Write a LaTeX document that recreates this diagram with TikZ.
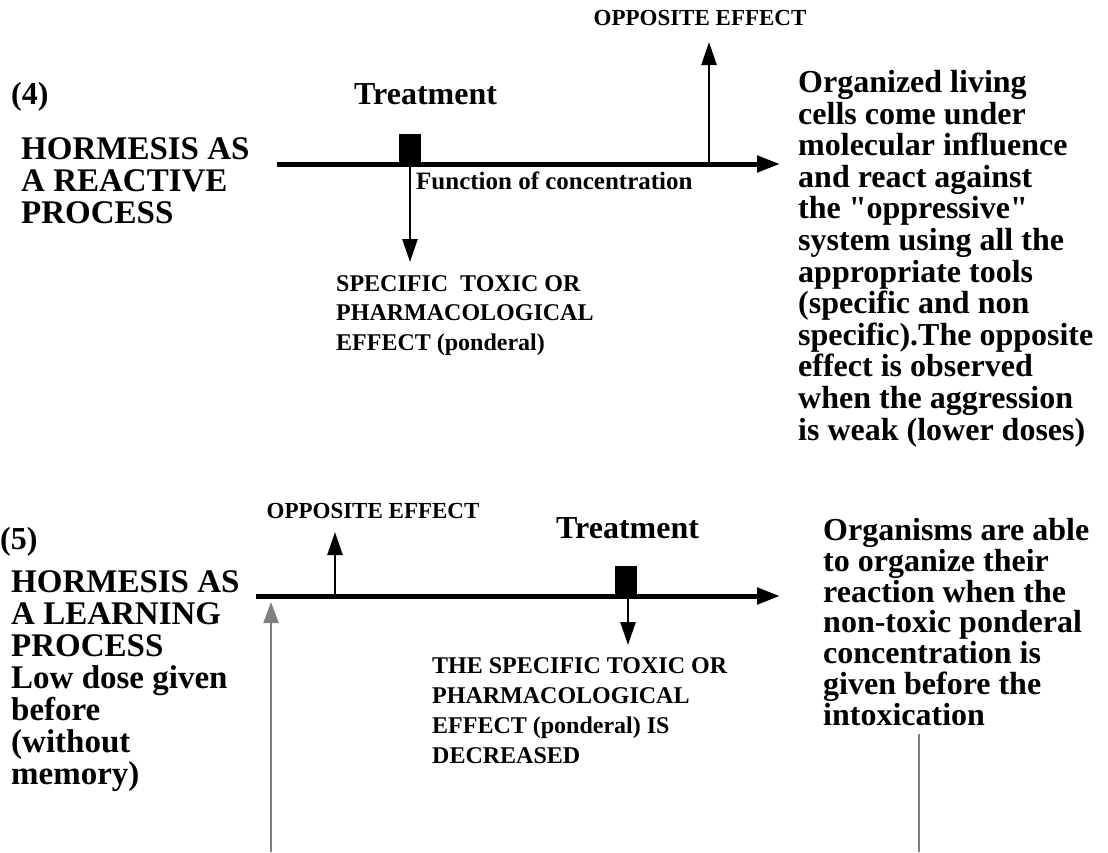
\documentclass[tikz,border=0pt]{standalone}
\usepackage{fontspec}
\setmainfont{Liberation Serif}
\usetikzlibrary{arrows.meta,positioning}

\tikzset{
	axis/.style={line width=5pt, -{Triangle[length=23pt,width=16pt]}},
	effect/.style={line width=2.5pt, -{Triangle[length=23pt,width=15pt]}},
	link/.style={line width=2pt, draw=gray},
	dose/.style={fill=black, inner sep=0pt, minimum width=22pt, minimum height=30pt, anchor=south},
	bigtxt/.style={font=\bfseries\fontsize{32}{32}\selectfont, inner sep=0pt, anchor=north west, align=left},
	titletxt/.style={font=\bfseries\fontsize{33}{32}\selectfont, inner sep=0pt, anchor=north west, align=left},
	prosetxt/.style={font=\bfseries\fontsize{32}{31.6}\selectfont, inner sep=0pt, anchor=north west, align=left},
	smalltxt/.style={font=\bfseries\fontsize{24}{29.5}\selectfont, inner sep=0pt, anchor=north west, align=left},
	capstxt/.style={font=\bfseries\fontsize{23}{23}\selectfont, inner sep=0pt, anchor=north},
}

\begin{document}
\begin{tikzpicture}[x=1pt,y=-1pt]
	\useasboundingbox (0,0) rectangle (1108,852);
	%panel (4)
	\node[bigtxt] (numA) at (11,82) {(4)};
	\node[titletxt] (titleA) at (21,137) {HORMESIS AS\\A REACTIVE\\PROCESS};
	\node[bigtxt] (treatA) at (354,83) {Treatment};
	\node[capstxt] (oppA) at (700,10) {OPPOSITE EFFECT};
	\node[smalltxt, font=\bfseries\fontsize{25}{25}\selectfont] (funcA) at (416,172) {Function of concentration};
	\node[smalltxt] (toxA) at (336,275) {SPECIFIC\ \ TOXIC OR\\PHARMACOLOGICAL\\EFFECT (ponderal)};
	\node[prosetxt] (notesA) at (798,70) {Organized living\\cells come under\\molecular influence\\and react against\\the \textquotedbl oppressive\textquotedbl\\system using all the\\appropriate tools\\(specific and non\\specific).The opposite\\effect is observed\\when the aggression\\is weak (lower doses)};
	\coordinate (startA) at (277,164);
	\coordinate (endA) at (780,164);
	\draw[axis] (startA) -- (endA);
	\node[dose] (doseA) at (410,164) {};
	\coordinate (tipA) at (410,262);
	\draw[effect] (doseA.south) -- (tipA);
	\coordinate (riseA) at (709,164);
	\coordinate (peakA) at (709,42);
	\draw[effect] (riseA) -- (peakA);

	%panel (5)
	\node[bigtxt] (numB) at (0,527) {(5)};
	\node[titletxt] (titleB) at (11,570) {HORMESIS AS\\A LEARNING\\PROCESS\\Low dose given\\before\\(without\\memory)};
	\node[bigtxt] (treatB) at (556,517) {Treatment};
	\node[capstxt] (oppB) at (373,503) {OPPOSITE EFFECT};
	\node[smalltxt, font=\bfseries\fontsize{24}{30}\selectfont] (toxB) at (432,657) {THE SPECIFIC TOXIC OR\\PHARMACOLOGICAL\\EFFECT (ponderal) IS\\DECREASED};
	\node[prosetxt, font=\bfseries\fontsize{32}{30.8}\selectfont] (notesB) at (823,518) {Organisms are able\\to organize their\\reaction when the\\non-toxic ponderal\\concentration is\\given before the\\intoxication};
	\coordinate (startB) at (256,596);
	\coordinate (endB) at (780,596);
	\draw[axis] (startB) -- (endB);
	\node[dose] (doseB) at (626,596) {};
	\coordinate (tipB) at (628,645);
	\draw[effect] (doseB.south -| tipB) -- (tipB);
	\coordinate (riseB) at (335,596);
	\coordinate (peakB) at (335,532);
	\draw[effect] (riseB) -- (peakB);

	%links to the next panel
	\coordinate (feedB) at (271,852);
	\coordinate (feedtipB) at (271,602);
	\draw[link, -{Triangle[length=21pt,width=15pt]}, fill=gray] (feedB) -- (feedtipB);
	\coordinate (outB) at (919,852);
	\coordinate (outtopB) at (919,734);
	\draw[link] (outB) -- (outtopB);
\end{tikzpicture}
\end{document}
